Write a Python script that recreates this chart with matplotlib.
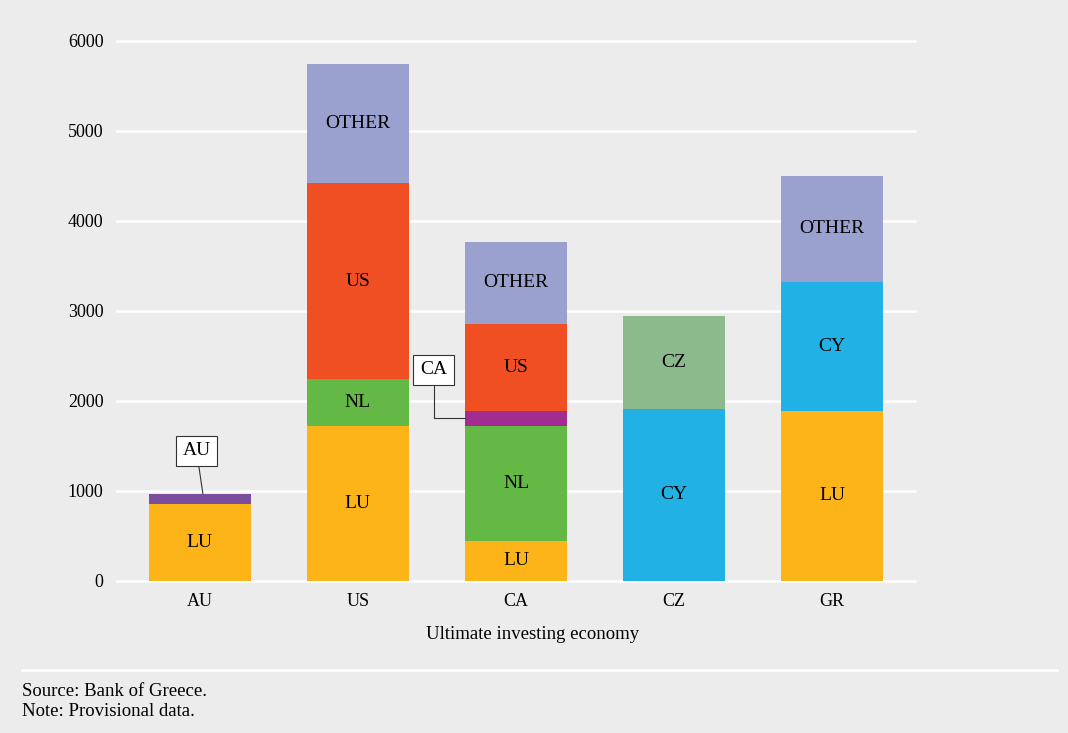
import matplotlib.pyplot as plt
from matplotlib.lines import Line2D

# Inward FDI positions by ultimate investing economy, split by immediate counterpart
economies = ["AU", "US", "CA", "CZ", "GR"]
au_parts = ["LU", "AU"]
au_values = [860, 110]
us_parts = ["LU", "NL", "US", "OTHER"]
us_values = [1720, 520, 2180, 1320]
ca_parts = ["LU", "NL", "CA", "US", "OTHER"]
ca_values = [445, 1280, 165, 965, 910]
cz_parts = ["CY", "CZ"]
cz_values = [1910, 1030]
gr_parts = ["LU", "CY", "OTHER"]
gr_values = [1890, 1430, 1180]
yticks = [0, 1000, 2000, 3000, 4000, 5000, 6000]

COLORS = {
    "LU": "#FDB418",
    "AU": "#7A4E9C",
    "NL": "#63B846",
    "US": "#F04F24",
    "OTHER": "#9AA1CF",
    "CA": "#A22D91",
    "CY": "#21B1E4",
    "CZ": "#8DBA8C",
}
BG = "#ECECEC"
# small segments get a callout box instead of an inside label
CALLOUT = {(0, "AU"): (-0.02, 1445), (2, "CA"): (1.48, 2345)}

plt.rcParams["font.family"] = ["Liberation Serif", "DejaVu Serif"]
plt.rcParams["font.size"] = 13

fig = plt.figure(figsize=(10.68, 7.33), dpi=100, facecolor=BG)
ax = fig.add_axes([0.110, 0.2074, 0.747, 0.737])
ax.set_facecolor(BG)

width = 0.645
stacks = [(au_parts, au_values), (us_parts, us_values), (ca_parts, ca_values),
          (cz_parts, cz_values), (gr_parts, gr_values)]
for i, (parts, values) in enumerate(stacks):
    bottom = 0
    for name, val in zip(parts, values):
        ax.bar(i, val, width, bottom=bottom, color=COLORS[name], zorder=3)
        mid = bottom + val / 2
        if (i, name) in CALLOUT:
            tx, ty = CALLOUT[(i, name)]
            if name == "AU":
                xy = (i + 0.02, bottom + val)
                style = "arc3"
            else:
                xy = (i - width / 2, mid)
                style = "angle,angleA=90,angleB=0,rad=0"
            ax.annotate(name, xy=xy, xytext=(tx, ty), ha="center", va="center",
                        fontsize=14,
                        bbox=dict(boxstyle="square,pad=0.35", fc="white", ec="#333333", lw=0.8),
                        arrowprops=dict(arrowstyle="-", color="#333333", lw=0.8,
                                        connectionstyle=style, shrinkA=0, shrinkB=0),
                        zorder=5)
        else:
            ax.text(i, mid, name, ha="center", va="center", fontsize=14, zorder=4)
        bottom += val

ax.set_xlim(-0.52, 4.525)
ax.set_ylim(0, 6000)
ax.set_yticks(yticks)
ax.set_xticks(range(len(economies)))
ax.set_xticklabels(economies)
ax.tick_params(length=0, pad=10)
ax.tick_params(axis="x", pad=9)
ax.grid(axis="y", color="white", lw=1.8, zorder=1)
ax.set_axisbelow(True)
for sp in ax.spines.values():
    sp.set_visible(False)
for gl in ax.get_ygridlines():
    gl.set_clip_on(False)
ax.set_xlabel("Ultimate investing economy", fontsize=13.5)
ax.xaxis.set_label_coords(0.52, -0.083)

fig.add_artist(Line2D([22 / 1068, 1057 / 1068], [1 - 670 / 733] * 2,
                      transform=fig.transFigure, color="white", lw=2))
fig.text(22 / 1068, 1 - 691 / 733, "Source: Bank of Greece.", va="center", fontsize=13.5)
fig.text(22 / 1068, 1 - 712 / 733, "Note: Provisional data.", va="center", fontsize=13.5)

fig.savefig("out.png", dpi=100, facecolor=BG)
